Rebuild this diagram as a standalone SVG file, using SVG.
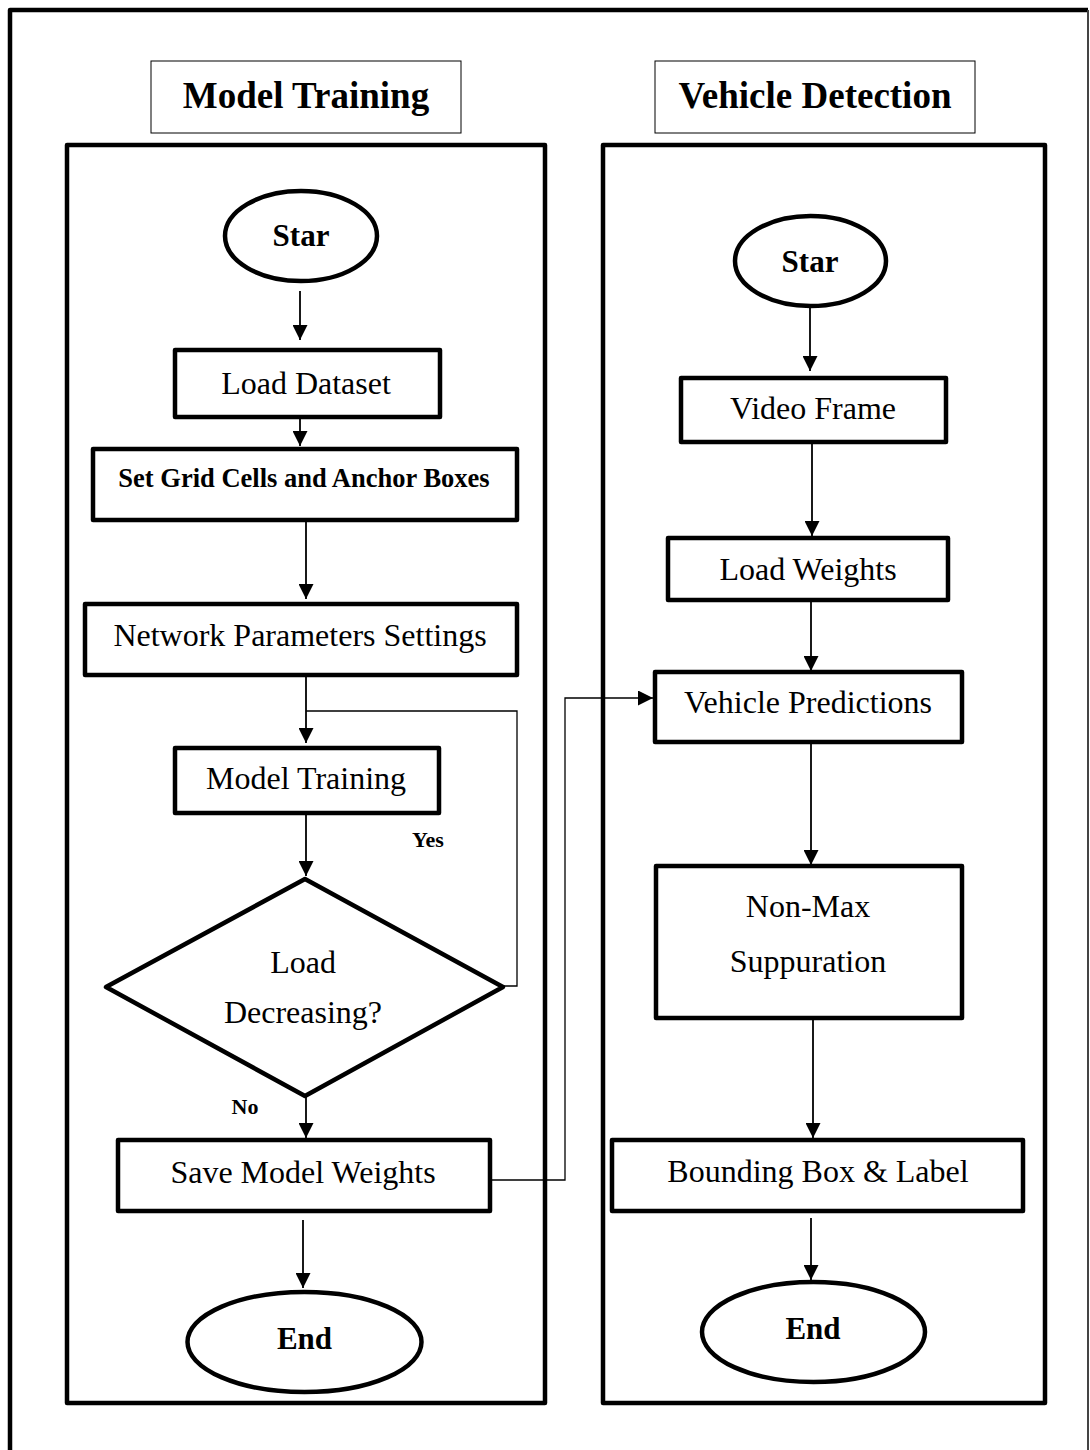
<svg xmlns="http://www.w3.org/2000/svg" width="1090" height="1450" viewBox="0 0 1090 1450">
  <style>
    .t { font-family: "Liberation Serif", "Times New Roman", serif; fill: #000; text-anchor: middle; }
    .b { font-weight: bold; }
    .title { font-size: 37px; font-weight: bold; }
    .lbl { font-size: 32px; }
    .term { font-size: 31px; font-weight: bold; }
    .yn { font-size: 22px; font-weight: bold; }
    .box { fill: #fff; stroke: #000; stroke-width: 4.5; stroke-linejoin: round; }
    .panel { fill: none; stroke: #000; stroke-width: 4.5; stroke-linejoin: round; }
    .head { fill: #fff; stroke: #000; stroke-width: 1; }
    .wire { fill: none; stroke: #000; stroke-width: 1.8; }
    .thin { fill: none; stroke: #000; stroke-width: 1.3; }
  </style>
  <defs>
    <marker id="arrow" markerUnits="userSpaceOnUse" markerWidth="15" markerHeight="15" refX="15" refY="7.5" orient="auto">
      <path d="M0,0 L15,7.5 L0,15 z" fill="#000"/>
    </marker>
  </defs>

  <rect width="1090" height="1450" fill="#fff"/>

  <!-- outer frame -->
  <g id="frame">
    <path d="M10,1450 L10,10 L1088,10" fill="none" stroke="#000" stroke-width="4.5" stroke-linejoin="round"/>
    <line x1="1088" y1="10" x2="1088" y2="1450" stroke="#444" stroke-width="2"/>
  </g>

  <!-- swimlane headers and panels -->
  <g id="lane-training">
    <rect x="151" y="61" width="310" height="72" class="head"/>
    <text x="306" y="108" class="t title">Model Training</text>
    <rect x="67" y="145" width="478" height="1258" class="panel"/>
  </g>
  <g id="lane-detection">
    <rect x="655" y="61" width="320" height="72" class="head"/>
    <text x="815" y="108" class="t title">Vehicle Detection</text>
    <rect x="603" y="145" width="442" height="1258" class="panel"/>
  </g>

  <!-- connectors -->
  <g id="connectors">
    <line x1="300" y1="291" x2="300" y2="340" class="wire" marker-end="url(#arrow)"/>
    <line x1="300" y1="418" x2="300" y2="446" class="wire" marker-end="url(#arrow)"/>
    <line x1="306" y1="521" x2="306" y2="599" class="wire" marker-end="url(#arrow)"/>
    <line x1="306" y1="676" x2="306" y2="743" class="wire" marker-end="url(#arrow)"/>
    <polyline points="503,986 517,986 517,711 306,711" class="thin"/>
    <line x1="306" y1="813" x2="306" y2="876" class="wire" marker-end="url(#arrow)"/>
    <line x1="306" y1="1096" x2="306" y2="1138" class="wire" marker-end="url(#arrow)"/>
    <line x1="303" y1="1220" x2="303" y2="1288" class="wire" marker-end="url(#arrow)"/>
    <polyline points="490,1180 565,1180 565,698 653,698" class="thin" marker-end="url(#arrow)"/>

    <line x1="810" y1="307" x2="810" y2="371" class="wire" marker-end="url(#arrow)"/>
    <line x1="812" y1="443" x2="812" y2="536" class="wire" marker-end="url(#arrow)"/>
    <line x1="811" y1="600" x2="811" y2="671" class="wire" marker-end="url(#arrow)"/>
    <line x1="811" y1="739" x2="811" y2="865" class="wire" marker-end="url(#arrow)"/>
    <line x1="813" y1="1019" x2="813" y2="1138" class="wire" marker-end="url(#arrow)"/>
    <line x1="811" y1="1218" x2="811" y2="1280" class="wire" marker-end="url(#arrow)"/>
  </g>

  <!-- Model Training lane nodes -->
  <g id="train-start">
    <ellipse cx="301" cy="236" rx="76" ry="45" class="box"/>
    <text x="301" y="246" class="t term">Star</text>
  </g>
  <g id="load-dataset">
    <rect x="175" y="350" width="265" height="67" class="box"/>
    <text x="306" y="394" class="t lbl">Load Dataset</text>
  </g>
  <g id="grid-anchors">
    <rect x="93" y="449" width="424" height="71" class="box"/>
    <text x="304" y="487" class="t b" font-size="26.5">Set Grid Cells and Anchor Boxes</text>
  </g>
  <g id="network-params">
    <rect x="85" y="604" width="432" height="71" class="box"/>
    <text x="300" y="646" class="t lbl">Network Parameters Settings</text>
  </g>
  <g id="model-training">
    <rect x="175" y="748" width="264" height="65" class="box"/>
    <text x="306" y="789" class="t lbl">Model Training</text>
  </g>
  <g id="loss-check">
    <polygon points="305,879 503,987 305,1096 106,987" class="box"/>
    <text x="303" y="973" class="t lbl">Load</text>
    <text x="303" y="1023" class="t lbl">Decreasing?</text>
    <text x="428" y="847" class="t yn">Yes</text>
    <text x="245" y="1114" class="t yn">No</text>
  </g>
  <g id="save-weights">
    <rect x="118" y="1140" width="372" height="71" class="box"/>
    <text x="303" y="1183" class="t lbl">Save Model Weights</text>
  </g>
  <g id="train-end">
    <ellipse cx="304.5" cy="1342" rx="117" ry="50" class="box"/>
    <text x="304.5" y="1349" class="t term">End</text>
  </g>

  <!-- Vehicle Detection lane nodes -->
  <g id="detect-start">
    <ellipse cx="810.5" cy="261" rx="75.5" ry="45" class="box"/>
    <text x="810" y="272" class="t term">Star</text>
  </g>
  <g id="video-frame">
    <rect x="681" y="378" width="265" height="64" class="box"/>
    <text x="813" y="419" class="t lbl">Video Frame</text>
  </g>
  <g id="load-weights">
    <rect x="668" y="538" width="280" height="62" class="box"/>
    <text x="808" y="580" class="t lbl">Load Weights</text>
  </g>
  <g id="vehicle-predictions">
    <rect x="655" y="672" width="307" height="70" class="box"/>
    <text x="808" y="713" class="t lbl">Vehicle Predictions</text>
  </g>
  <g id="nms">
    <rect x="656" y="866" width="306" height="152" class="box"/>
    <text x="808" y="917" class="t lbl">Non-Max</text>
    <text x="808" y="972" class="t lbl">Suppuration</text>
  </g>
  <g id="bbox-label">
    <rect x="612" y="1140" width="411" height="71" class="box"/>
    <text x="818" y="1182" class="t lbl">Bounding Box &amp; Label</text>
  </g>
  <g id="detect-end">
    <ellipse cx="813.5" cy="1332" rx="111.5" ry="50" class="box"/>
    <text x="813" y="1339" class="t term">End</text>
  </g>
</svg>
